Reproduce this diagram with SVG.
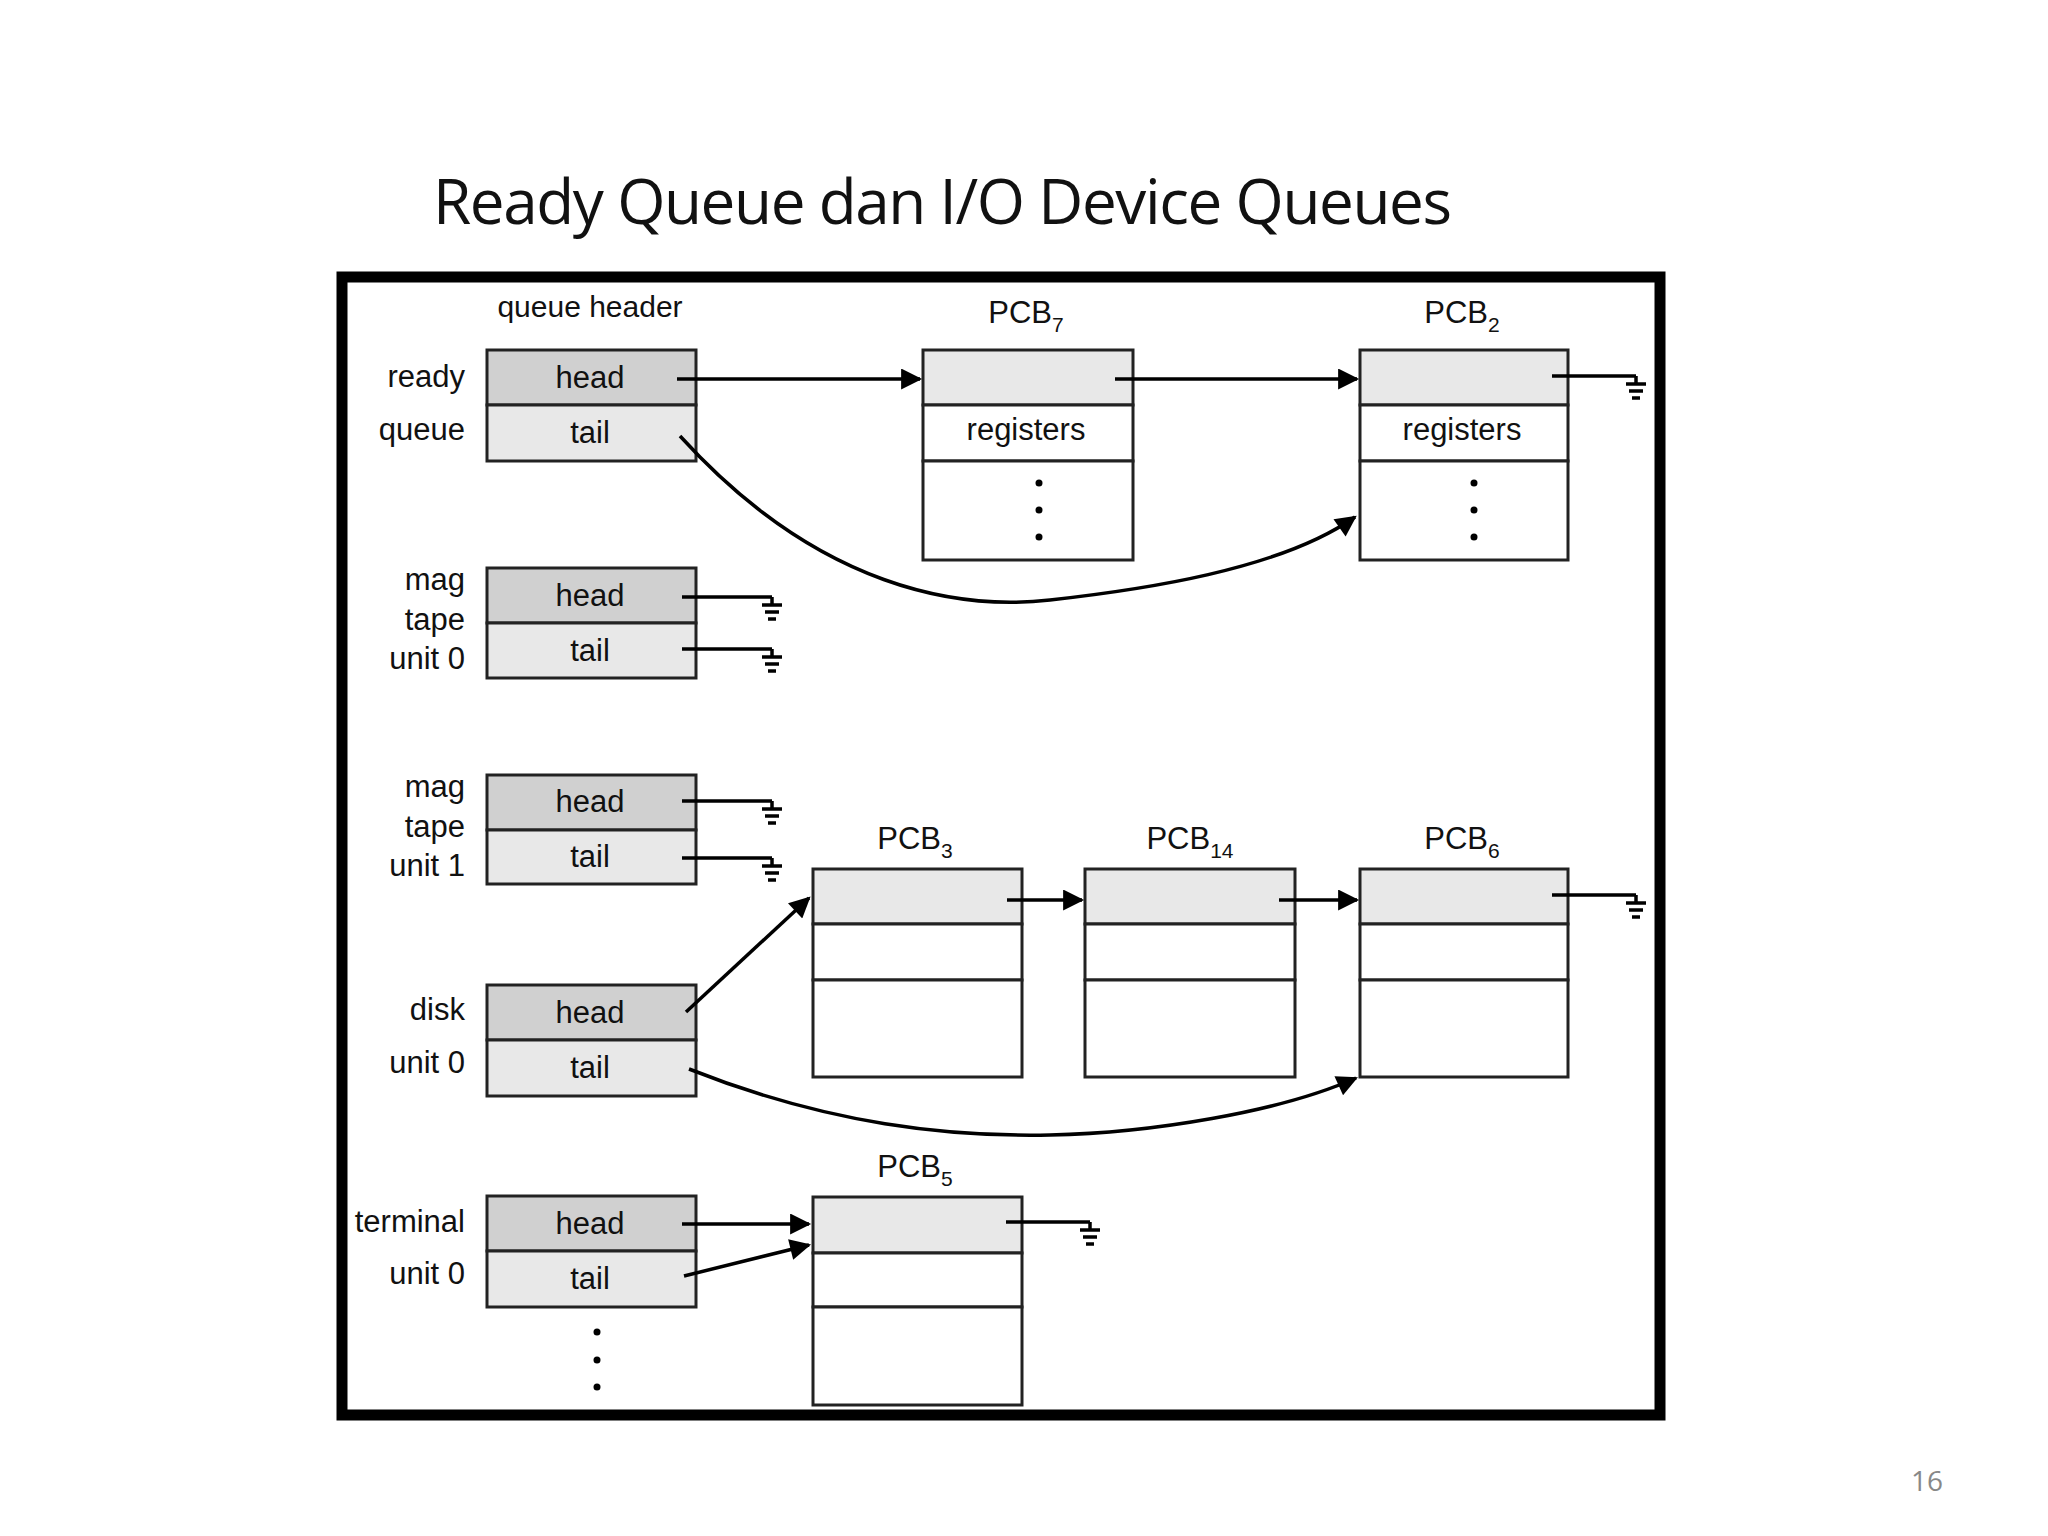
<svg xmlns="http://www.w3.org/2000/svg" width="2048" height="1536" viewBox="0 0 2048 1536">
<style>
text{font-family:"Liberation Sans",Arial,sans-serif;font-size:31px;fill:#111}
.c{text-anchor:middle}.r{text-anchor:end}
.h{fill:#d0d0d0;stroke:#222;stroke-width:3}
.t{fill:#e8e8e8;stroke:#222;stroke-width:3}
.w{fill:#fff;stroke:#222;stroke-width:3}
.ln{fill:none;stroke:#000;stroke-width:3.5}
.g{fill:none;stroke:#000;stroke-width:3.5}
</style>
<defs>
<marker id="a" viewBox="0 0 10 10" refX="9" refY="5" markerWidth="7" markerHeight="6" orient="auto" markerUnits="strokeWidth"><path d="M0,0L10,5L0,10z" fill="#000"/></marker>
<g id="gnd"><line x1="-10" y1="8" x2="10" y2="8" stroke="#000" stroke-width="3.5"/><line x1="-7" y1="15" x2="7" y2="15" stroke="#000" stroke-width="3.5"/><line x1="-4" y1="22" x2="4" y2="22" stroke="#000" stroke-width="3.5"/><line x1="0" y1="0" x2="0" y2="8" stroke="#000" stroke-width="3.5"/></g>
</defs>
<rect width="2048" height="1536" fill="#fff"/>
<text x="433" y="224" style="font-family:'Open Sans','Noto Sans',sans-serif;font-size:62px" textLength="1019">Ready Queue dan I/O Device Queues</text>
<rect x="342" y="277" width="1318" height="1138" fill="none" stroke="#000" stroke-width="11"/>
<text x="590" y="317" class="c" style="font-size:30px">queue header</text>

<g id="ready"><rect class="h" x="487" y="350" width="209" height="55"/><rect class="t" x="487" y="405" width="209" height="56"/><text x="590" y="388" class="c">head</text><text x="590" y="443" class="c">tail</text><text x="465" y="387" class="r">ready</text><text x="465" y="440" class="r">queue</text></g>
<g id="mag0"><rect class="h" x="487" y="568" width="209" height="55"/><rect class="t" x="487" y="623" width="209" height="55"/><text x="590" y="606" class="c">head</text><text x="590" y="661" class="c">tail</text><text x="465" y="590" class="r">mag</text><text x="465" y="630" class="r">tape</text><text x="465" y="669" class="r">unit 0</text></g>
<g id="mag1"><rect class="h" x="487" y="775" width="209" height="55"/><rect class="t" x="487" y="830" width="209" height="54"/><text x="590" y="812" class="c">head</text><text x="590" y="867" class="c">tail</text><text x="465" y="797" class="r">mag</text><text x="465" y="837" class="r">tape</text><text x="465" y="876" class="r">unit 1</text></g>
<g id="disk"><rect class="h" x="487" y="985" width="209" height="55"/><rect class="t" x="487" y="1040" width="209" height="56"/><text x="590" y="1023" class="c">head</text><text x="590" y="1078" class="c">tail</text><text x="465" y="1020" class="r">disk</text><text x="465" y="1073" class="r">unit 0</text></g>
<g id="term"><rect class="h" x="487" y="1196" width="209" height="55"/><rect class="t" x="487" y="1251" width="209" height="56"/><text x="590" y="1234" class="c">head</text><text x="590" y="1289" class="c">tail</text><text x="465" y="1232" class="r">terminal</text><text x="465" y="1284" class="r">unit 0</text><circle cx="597" cy="1332" r="3.5"/><circle cx="597" cy="1360" r="3.5"/><circle cx="597" cy="1387" r="3.5"/></g>

<g id="pcb7"><rect class="t" x="923" y="350" width="210" height="55"/><rect class="w" x="923" y="405" width="210" height="56"/><rect class="w" x="923" y="461" width="210" height="99"/><text x="1026" y="440" class="c">registers</text><circle cx="1039" cy="483" r="3.5"/><circle cx="1039" cy="510" r="3.5"/><circle cx="1039" cy="537" r="3.5"/><text x="1026" y="323" class="c">PCB<tspan dy="9" font-size="21">7</tspan></text></g>
<g id="pcb2"><rect class="t" x="1360" y="350" width="208" height="55"/><rect class="w" x="1360" y="405" width="208" height="56"/><rect class="w" x="1360" y="461" width="208" height="99"/><text x="1462" y="440" class="c">registers</text><circle cx="1474" cy="483" r="3.5"/><circle cx="1474" cy="510" r="3.5"/><circle cx="1474" cy="537" r="3.5"/><text x="1462" y="323" class="c">PCB<tspan dy="9" font-size="21">2</tspan></text></g>
<g id="pcb3"><rect class="t" x="813" y="869" width="209" height="55"/><rect class="w" x="813" y="924" width="209" height="56"/><rect class="w" x="813" y="980" width="209" height="97"/><text x="915" y="849" class="c">PCB<tspan dy="9" font-size="21">3</tspan></text></g>
<g id="pcb14"><rect class="t" x="1085" y="869" width="210" height="55"/><rect class="w" x="1085" y="924" width="210" height="56"/><rect class="w" x="1085" y="980" width="210" height="97"/><text x="1190" y="849" class="c">PCB<tspan dy="9" font-size="21">14</tspan></text></g>
<g id="pcb6"><rect class="t" x="1360" y="869" width="208" height="55"/><rect class="w" x="1360" y="924" width="208" height="56"/><rect class="w" x="1360" y="980" width="208" height="97"/><text x="1462" y="849" class="c">PCB<tspan dy="9" font-size="21">6</tspan></text></g>
<g id="pcb5"><rect class="t" x="813" y="1197" width="209" height="56"/><rect class="w" x="813" y="1253" width="209" height="54"/><rect class="w" x="813" y="1307" width="209" height="98"/><text x="915" y="1177" class="c">PCB<tspan dy="9" font-size="21">5</tspan></text></g>

<g id="connectors">
<line class="ln" x1="677" y1="379" x2="920" y2="379" marker-end="url(#a)"/>
<line class="ln" x1="1115" y1="379" x2="1357" y2="379" marker-end="url(#a)"/>
<path class="ln" d="M680,436 C820,590 960,610 1050,600 S1280,570 1355,517" marker-end="url(#a)"/>
<line class="g" x1="1552" y1="376" x2="1636" y2="376"/><use href="#gnd" x="1636" y="376"/>
<line class="g" x1="682" y1="597" x2="772" y2="597" stroke-width="5"/><use href="#gnd" x="772" y="597"/>
<line class="g" x1="682" y1="649" x2="772" y2="649" stroke-width="5"/><use href="#gnd" x="772" y="649"/>
<line class="g" x1="682" y1="801" x2="772" y2="801" stroke-width="5"/><use href="#gnd" x="772" y="801"/>
<line class="g" x1="682" y1="858" x2="772" y2="858" stroke-width="5"/><use href="#gnd" x="772" y="858"/>
<line class="ln" x1="686" y1="1012" x2="809" y2="898" marker-end="url(#a)"/>
<line class="ln" x1="1007" y1="900" x2="1082" y2="900" marker-end="url(#a)"/>
<line class="ln" x1="1279" y1="900" x2="1357" y2="900" marker-end="url(#a)"/>
<line class="g" x1="1552" y1="895" x2="1636" y2="895"/><use href="#gnd" x="1636" y="895"/>
<path class="ln" d="M689,1069 C830,1125 950,1137 1050,1135 S1280,1112 1356,1078" marker-end="url(#a)"/>
<line class="ln" x1="682" y1="1224" x2="809" y2="1224" marker-end="url(#a)"/>
<line class="ln" x1="684" y1="1276" x2="809" y2="1245" marker-end="url(#a)"/>
<line class="g" x1="1006" y1="1222" x2="1090" y2="1222"/><use href="#gnd" x="1090" y="1222"/>
</g>
<text x="1927" y="1491" class="c" style="font-family:'Open Sans',sans-serif;font-size:28px;fill:#888">16</text>
</svg>
